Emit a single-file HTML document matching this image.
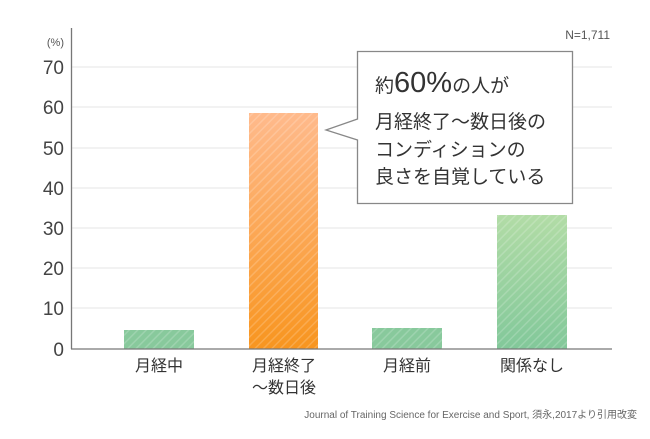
<!DOCTYPE html>
<html><head><meta charset="utf-8"><style>
body{margin:0;background:#fff;}
svg text{font-family:"Liberation Sans","Noto Sans CJK JP",sans-serif;}
</style></head><body>
<svg width="650" height="434" viewBox="0 0 650 434" xmlns="http://www.w3.org/2000/svg">
<defs>
<pattern id="h" width="6" height="6" patternUnits="userSpaceOnUse" patternTransform="rotate(45)">
<rect width="6" height="6" fill="none"/><rect width="1.5" height="6" fill="#fff" opacity="0.18"/>
</pattern>
<linearGradient id="og" x1="0" y1="0" x2="0" y2="1"><stop offset="0" stop-color="#ffba8c"/><stop offset="1" stop-color="#f8951f"/></linearGradient>
<linearGradient id="gg" x1="0" y1="0" x2="0" y2="1"><stop offset="0" stop-color="#b2dca6"/><stop offset="1" stop-color="#82c89a"/></linearGradient>
</defs>
<g stroke="#e6e6e6" stroke-width="1">
<line x1="72" x2="612" y1="67" y2="67"/><line x1="72" x2="612" y1="107" y2="107"/>
<line x1="72" x2="612" y1="148" y2="148"/><line x1="72" x2="612" y1="188" y2="188"/>
<line x1="72" x2="612" y1="228" y2="228"/><line x1="72" x2="612" y1="268" y2="268"/>
<line x1="72" x2="612" y1="308" y2="308"/>
</g>
<rect x="124" y="330" width="70" height="19" fill="#88c99c"/><rect x="124" y="330" width="70" height="19" fill="url(#h)"/>
<rect x="249" y="113" width="69" height="236" fill="url(#og)"/><rect x="249" y="113" width="69" height="236" fill="url(#h)"/>
<rect x="372" y="328" width="70" height="21" fill="#88c99c"/><rect x="372" y="328" width="70" height="21" fill="url(#h)"/>
<rect x="497" y="215" width="70" height="134" fill="url(#gg)"/><rect x="497" y="215" width="70" height="134" fill="url(#h)"/>
<line x1="71.5" y1="28" x2="71.5" y2="349" stroke="#777" stroke-width="1.3"/>
<line x1="71" y1="349" x2="612" y2="349" stroke="#777" stroke-width="1.3"/>
<g font-size="19" fill="#444" text-anchor="end">
<text x="64" y="74">70</text><text x="64" y="114">60</text><text x="64" y="155">50</text>
<text x="64" y="195">40</text><text x="64" y="235">30</text><text x="64" y="275">20</text>
<text x="64" y="315">10</text><text x="64" y="356">0</text>
</g>
<text x="64" y="46" font-size="11" fill="#555" text-anchor="end">(%)</text>
<text x="610" y="39" font-size="12" fill="#555" text-anchor="end">N=1,711</text>
<g font-size="16" fill="#333" text-anchor="middle">
<text x="159" y="371">月経中</text>
<text x="284" y="371">月経終了</text><text x="284" y="393">〜数日後</text>
<text x="407" y="371">月経前</text>
<text x="532" y="371">関係なし</text>
</g>
<text x="637" y="418" font-size="10" fill="#666" text-anchor="end">Journal of Training Science for Exercise and Sport, 須永,2017より引用改変</text>
<path d="M357.5 51.5 H572.5 V203.5 H357.5 V140 L326 130 L357.5 119 Z" fill="#fff" stroke="#888" stroke-width="1.3"/>
<g font-size="19" fill="#333">
<text x="375" y="92">約<tspan font-size="29">60%</tspan>の人が</text>
<text x="375" y="128">月経終了〜数日後の</text>
<text x="375" y="156">コンディションの</text>
<text x="375" y="183">良さを自覚している</text>
</g>
</svg>
</body></html>
